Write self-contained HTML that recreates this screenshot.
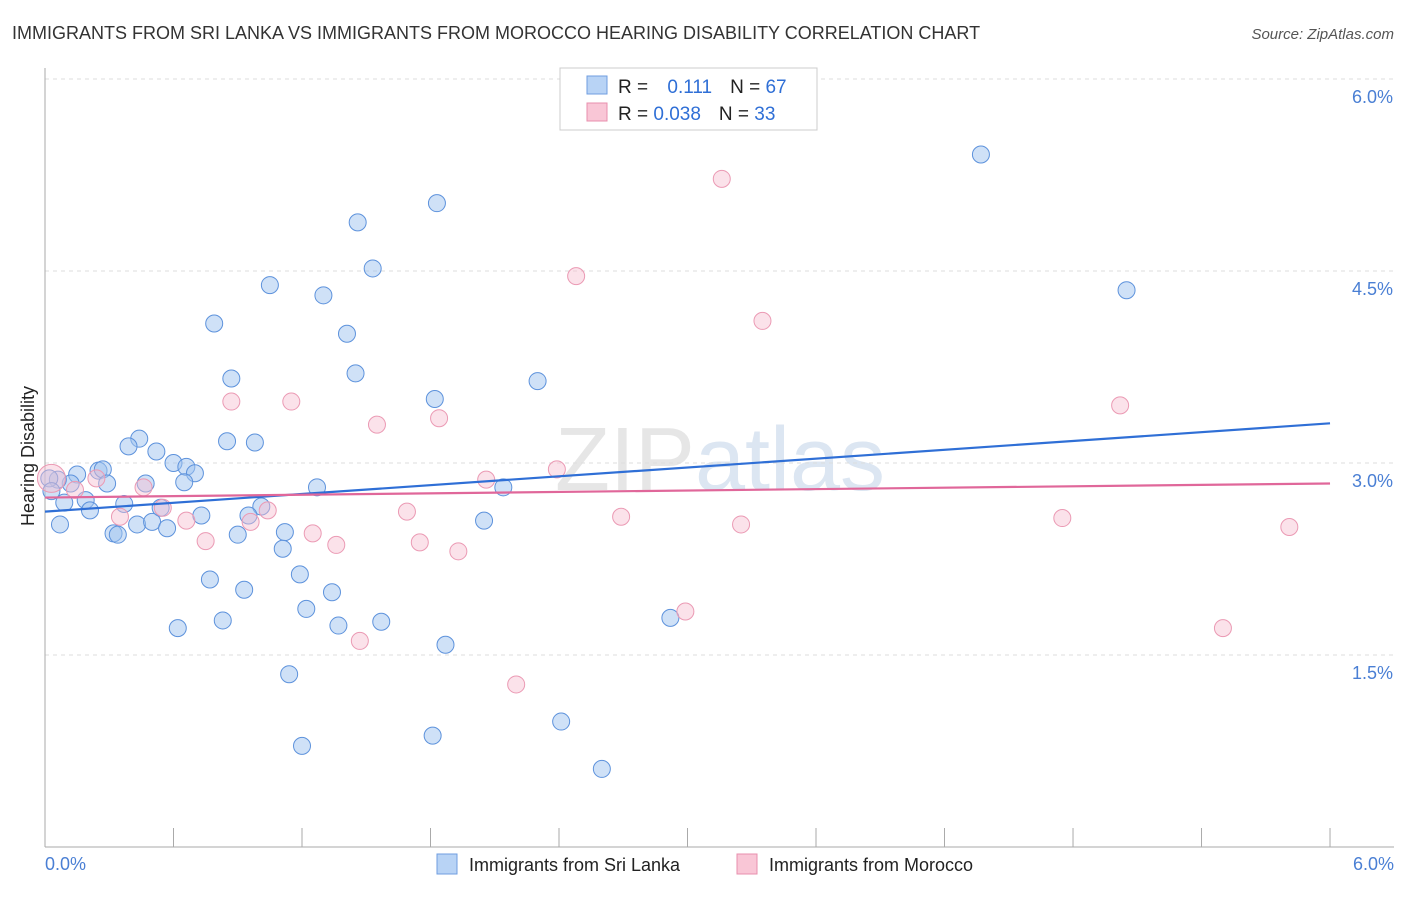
<!DOCTYPE html>
<html><head><meta charset="utf-8"><style>
body{margin:0;background:#fff;font-family:"Liberation Sans",sans-serif;}
svg text{font-family:"Liberation Sans",sans-serif;}
</style></head><body>
<svg id="chart" width="1406" height="892" xmlns="http://www.w3.org/2000/svg">
<text x="12" y="39" font-size="18" fill="#333">IMMIGRANTS FROM SRI LANKA VS IMMIGRANTS FROM MOROCCO HEARING DISABILITY CORRELATION CHART</text>
<text x="1394" y="39" font-size="15" fill="#555" font-style="italic" text-anchor="end">Source: ZipAtlas.com</text>
<text x="720" y="490" font-size="90" fill="#e6e6e6" text-anchor="middle" font-family="Liberation Serif">ZIP<tspan fill="#dce6f2" font-family="Liberation Sans">atlas</tspan></text>
<g id="grid"></g>
<g id="axes"></g>
<g id="pts"></g>
<g id="lines"></g>
<text transform="translate(34,456) rotate(-90)" font-size="18" fill="#222" text-anchor="middle">Hearing Disability</text>
<text x="45" y="870" font-size="18" fill="#4a7fd4">0.0%</text>
<text x="1394" y="870" font-size="18" fill="#4a7fd4" text-anchor="end">6.0%</text>
<g>
<rect x="560" y="68" width="257" height="62" fill="#fff" stroke="#ccc"/>
<rect x="587" y="76" width="20" height="18" fill="#b8d3f5" stroke="#6f9ee0"/>
<rect x="587" y="103" width="20" height="18" fill="#f9c6d6" stroke="#e88fad"/>
<text x="618" y="93" font-size="19" fill="#222">R = <tspan fill="#2f6fd6" dx="14">0.111</tspan><tspan dx="18" fill="#222">N = </tspan><tspan fill="#2f6fd6">67</tspan></text>
<text x="618" y="120" font-size="19" fill="#222">R = <tspan fill="#2f6fd6">0.038</tspan><tspan dx="18" fill="#222">N = </tspan><tspan fill="#2f6fd6">33</tspan></text>
</g>
<g>
<rect x="437" y="854" width="20" height="20" fill="#b8d3f5" stroke="#6f9ee0"/>
<text x="469" y="871" font-size="18" fill="#222">Immigrants from Sri Lanka</text>
<rect x="737" y="854" width="20" height="20" fill="#f9c6d6" stroke="#e88fad"/>
<text x="769" y="871" font-size="18" fill="#222">Immigrants from Morocco</text>
</g>
</svg>
<script>
const yTicks=[1.5,3.0,4.5,6.0];
const xTicks=[0,0.6,1.2,1.8,2.4,3.0,3.6,4.2,4.8,5.4,6.0];
const sriLankaX=[1.83,1.46,4.37,1.53,1.05,1.30,5.05,0.79,1.41,0.87,1.45,2.30,1.82,0.44,0.39,0.85,0.98,0.52,0.60,0.66,0.70,0.25,0.15,0.27,0.47,0.65,0.29,0.12,0.06,0.02,0.03,0.19,0.37,1.27,2.14,0.21,0.09,0.07,0.32,0.34,0.43,0.50,0.57,0.54,0.73,1.01,0.95,2.05,1.12,0.90,1.11,1.19,0.77,0.93,1.34,1.22,0.83,0.62,1.37,1.57,2.92,1.87,1.14,2.41,1.81,1.20,2.60];
const sriLankaY=[5.03,4.88,5.41,4.52,4.39,4.31,4.35,4.09,4.01,3.66,3.70,3.64,3.50,3.19,3.13,3.17,3.16,3.09,3.00,2.97,2.92,2.94,2.91,2.95,2.84,2.85,2.84,2.84,2.87,2.88,2.78,2.71,2.68,2.81,2.81,2.63,2.69,2.52,2.45,2.44,2.52,2.54,2.49,2.65,2.59,2.66,2.59,2.55,2.46,2.44,2.33,2.13,2.09,2.01,1.99,1.86,1.77,1.71,1.73,1.76,1.79,1.58,1.35,0.98,0.87,0.79,0.61];
const moroccoX=[3.16,2.48,3.35,0.87,1.15,1.84,1.55,5.02,2.39,2.06,0.46,0.24,0.03,0.14,0.55,1.04,0.96,0.35,0.66,1.69,2.69,3.25,4.75,5.81,1.25,0.75,1.36,1.75,1.93,2.99,1.47,5.50,2.20];
const moroccoY=[5.22,4.46,4.11,3.48,3.48,3.35,3.30,3.45,2.95,2.87,2.81,2.88,2.88,2.79,2.65,2.63,2.54,2.58,2.55,2.62,2.58,2.52,2.57,2.50,2.45,2.39,2.36,2.38,2.31,1.84,1.61,1.71,1.27];
const sriLankaTrend=[2.62,3.31];
const moroccoTrend=[2.73,2.84];
const X=v=>45+v*214.17, Y=v=>847-v*128;
const NS="http://www.w3.org/2000/svg";
function mk(parent,tag,attrs){const e=document.createElementNS(NS,tag);for(const k in attrs)e.setAttribute(k,attrs[k]);parent.appendChild(e);return e;}
const grid=document.getElementById('grid'),axes=document.getElementById('axes'),pts=document.getElementById('pts'),lines=document.getElementById('lines');
yTicks.forEach(t=>{
  const l=mk(grid,'line',{x1:45,x2:1394,y1:Y(t),y2:Y(t),stroke:'#ddd','stroke-dasharray':'4,4'});
  
  
  const tx=mk(grid,'text',{x:1393,y:Y(t)+24,'font-size':18,fill:'#4a7fd4','text-anchor':'end'});
  tx.textContent=t.toFixed(1)+'%';
  
  
});
const yl=mk(axes,'line',{x1:45,x2:45,y1:68,y2:847,stroke:'#aaa'});


const xl=mk(axes,'line',{x1:45,x2:1394,y1:847,y2:847,stroke:'#aaa'});


xTicks.forEach(t=>{
  const tk=mk(axes,'line',{x1:X(t),x2:X(t),y1:828,y2:847,stroke:'#aaa'});
  
  
});
sriLankaX.forEach((x,i)=>{
  const c=mk(pts,'circle',{cx:X(x),cy:Y(sriLankaY[i]),r:8.5,fill:'rgba(160,196,240,0.5)',stroke:'#5d92dc','stroke-width':1});
  
  
});
moroccoX.forEach((x,i)=>{
  const c=mk(pts,'circle',{cx:X(x),cy:Y(moroccoY[i]),r:(i==12?14:8.5),fill:'rgba(247,190,208,0.45)',stroke:'#eb9ab4','stroke-width':1});
  
  
});
const b=mk(lines,'line',{x1:X(0),x2:X(6),y1:Y(sriLankaTrend[0]),y2:Y(sriLankaTrend[1]),stroke:'#2f6fd6','stroke-width':2.2});


const p=mk(lines,'line',{x1:X(0),x2:X(6),y1:Y(moroccoTrend[0]),y2:Y(moroccoTrend[1]),stroke:'#e0679a','stroke-width':2.2});


</script>
</body></html>
